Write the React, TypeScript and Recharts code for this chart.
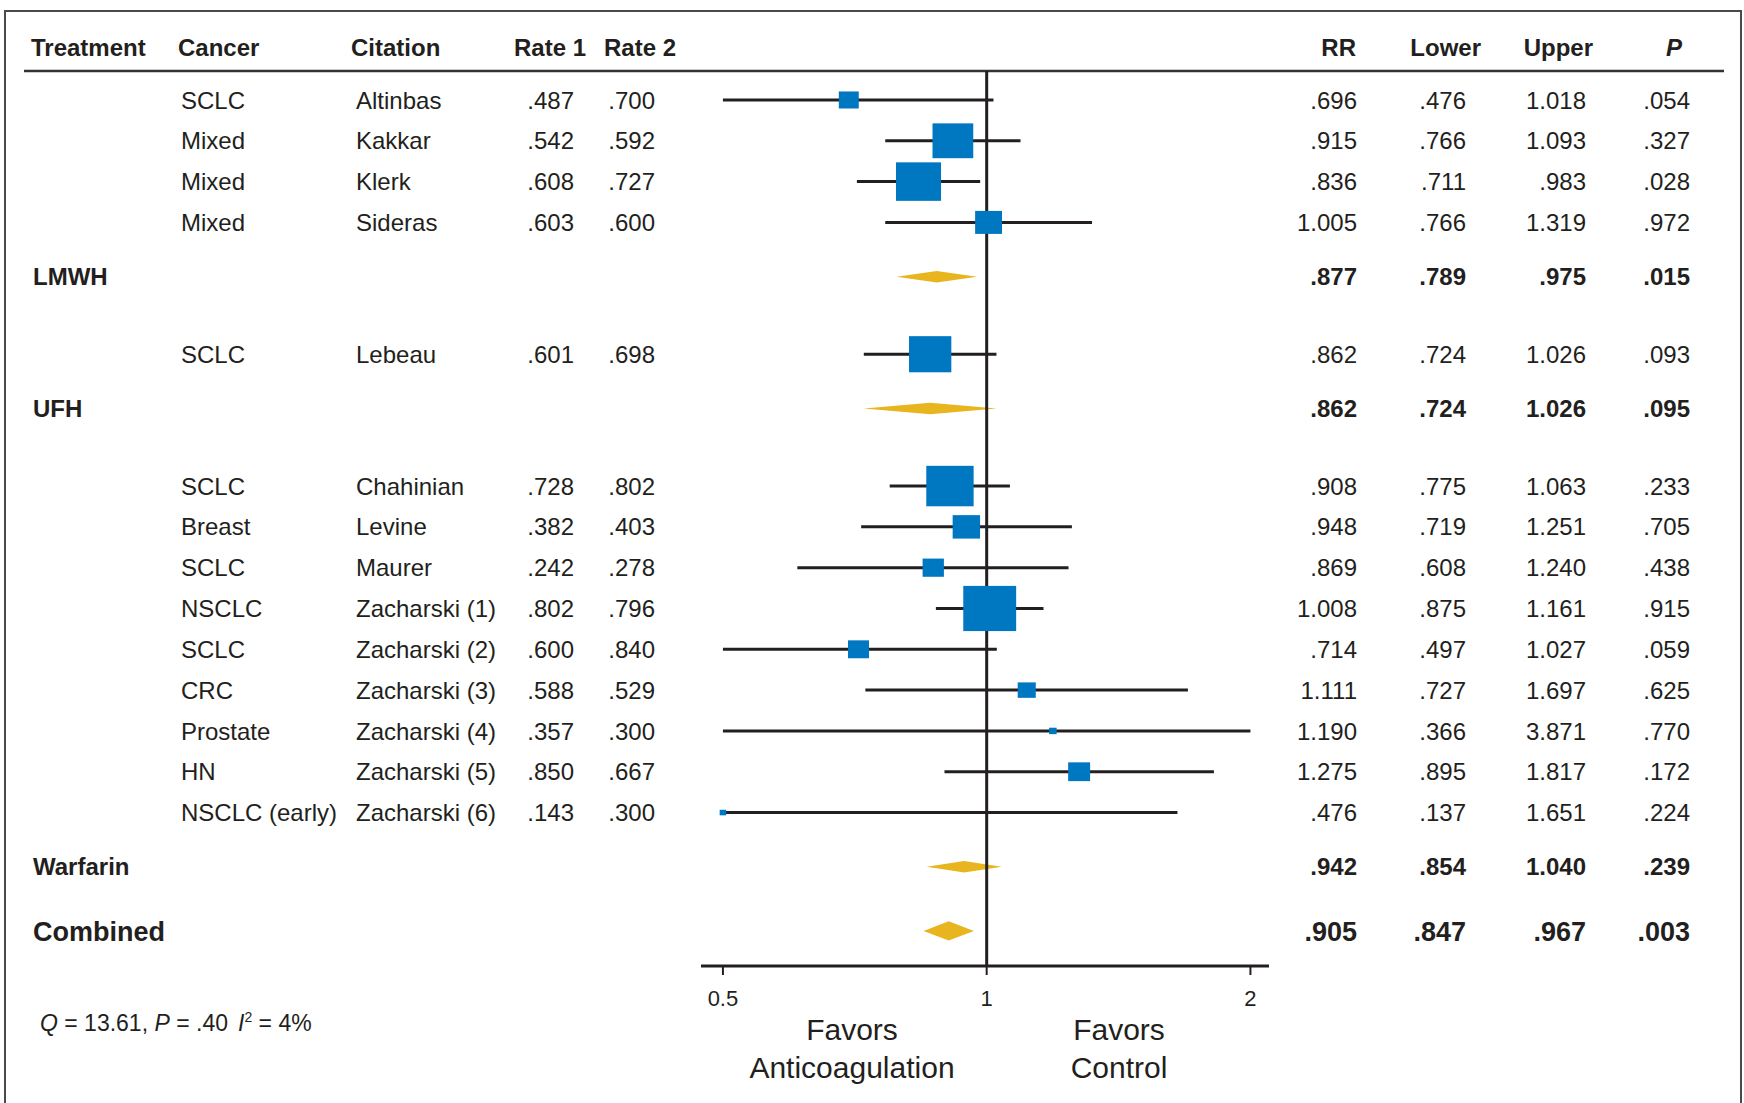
import React from 'react';
import { ComposedChart, Scatter, XAxis, YAxis, ReferenceArea } from 'recharts';

const FONT = '"Liberation Sans", Arial, Helvetica, sans-serif';
const INK = '#231f20';
const BLUE = '#0077c1';
const GOLD = '#e8b51e';

// one entry per study, top to bottom
const treatments = ['LMWH', 'LMWH', 'LMWH', 'LMWH', 'UFH', 'Warfarin', 'Warfarin', 'Warfarin', 'Warfarin', 'Warfarin', 'Warfarin', 'Warfarin', 'Warfarin', 'Warfarin'];
const cancers = ['SCLC', 'Mixed', 'Mixed', 'Mixed', 'SCLC', 'SCLC', 'Breast', 'SCLC', 'NSCLC', 'SCLC', 'CRC', 'Prostate', 'HN', 'NSCLC (early)'];
const citations = ['Altinbas', 'Kakkar', 'Klerk', 'Sideras', 'Lebeau', 'Chahinian', 'Levine', 'Maurer', 'Zacharski (1)', 'Zacharski (2)', 'Zacharski (3)', 'Zacharski (4)', 'Zacharski (5)', 'Zacharski (6)'];
const rate1 = [0.487, 0.542, 0.608, 0.603, 0.601, 0.728, 0.382, 0.242, 0.802, 0.6, 0.588, 0.357, 0.85, 0.143];
const rate2 = [0.7, 0.592, 0.727, 0.6, 0.698, 0.802, 0.403, 0.278, 0.796, 0.84, 0.529, 0.3, 0.667, 0.3];
const rr = [0.696, 0.915, 0.836, 1.005, 0.862, 0.908, 0.948, 0.869, 1.008, 0.714, 1.111, 1.19, 1.275, 0.476];
const lower = [0.476, 0.766, 0.711, 0.766, 0.724, 0.775, 0.719, 0.608, 0.875, 0.497, 0.727, 0.366, 0.895, 0.137];
const upper = [1.018, 1.093, 0.983, 1.319, 1.026, 1.063, 1.251, 1.24, 1.161, 1.027, 1.697, 3.871, 1.817, 1.651];
const pValues = [0.054, 0.327, 0.028, 0.972, 0.093, 0.233, 0.705, 0.438, 0.915, 0.059, 0.625, 0.77, 0.172, 0.224];
// study weight (%)
const weights = [2.8, 11.7, 14.3, 5.1, 12.6, 15.8, 5.3, 3.2, 19.7, 3.1, 2.3, 0.4, 3.4, 0.3];

// pooled estimates
const summaryLabels = ['LMWH', 'UFH', 'Warfarin', 'Combined'];
const summaryRR = [0.877, 0.862, 0.942, 0.905];
const summaryLower = [0.789, 0.724, 0.854, 0.847];
const summaryUpper = [0.975, 1.026, 1.04, 0.967];
const summaryP = [0.015, 0.095, 0.239, 0.003];

const xTicks = [0.5, 1, 2];

// row layout (in row units)
const SUMMARY_GAP = 1.33;
const GROUP_GAP = 1.9;
const COMBINED_GAP = 1.57;
const Y_DOMAIN: [number, number] = [-0.71, 21.22];
const X_DOMAIN: [number, number] = [0.472, 2.1];
const CLIP: [number, number] = [0.5, 2];

const studyY: number[] = [];
const summaryY: number[] = [];
{
  let pos = 0;
  let last = 0;
  summaryLabels.slice(0, -1).forEach((label) => {
    treatments.forEach((t, i) => {
      if (t === label) {
        studyY[i] = pos;
        last = pos;
        pos += 1;
      }
    });
    summaryY.push(last + SUMMARY_GAP);
    pos = last + SUMMARY_GAP + GROUP_GAP;
  });
  summaryY.push(summaryY[summaryY.length - 1] + COMBINED_GAP);
}

const fmt = (v: number) => v.toFixed(3).replace(/^0(?=\.)/, '');
const clampX = (v: number) => Math.min(Math.max(v, CLIP[0]), CLIP[1]);

const studyPoints = rr.map((v, i) => ({ x: clampX(v), y: studyY[i], w: weights[i] }));
const whiskers = rr.map((_, i) => [
  { x: clampX(lower[i]), y: studyY[i] },
  { x: clampX(upper[i]), y: studyY[i] },
]);

const tableRows = [
  ...rr.map((_, i) => ({
    x: 1,
    y: studyY[i],
    kind: 'study',
    cells: [cancers[i], citations[i], fmt(rate1[i]), fmt(rate2[i]), fmt(rr[i]), fmt(lower[i]), fmt(upper[i]), fmt(pValues[i])],
  })),
  ...summaryLabels.map((label, g) => ({
    x: 1,
    y: summaryY[g],
    kind: label === 'Combined' ? 'combined' : 'summary',
    cells: [label, fmt(summaryRR[g]), fmt(summaryLower[g]), fmt(summaryUpper[g]), fmt(summaryP[g])],
  })),
];

const COL = { treat: 33, cancer: 181, citation: 356, rate1: 574, rate2: 655, rr: 1357, lower: 1466, upper: 1586, p: 1690 };

const noShape = () => <g />;

const BoxShape = (props: any) => {
  const { cx, cy, payload } = props;
  const side = 10.83 * Math.sqrt(payload.w);
  const w = side * 1.1;
  const h = side * 0.94;
  return <rect x={cx - w / 2} y={cy - h / 2} width={w} height={h} fill={BLUE} />;
};

const RowText = (props: any) => {
  const { cy, payload } = props;
  const c = payload.cells as string[];
  if (payload.kind === 'study') {
    const base = cy + 8.6;
    const t = { fontFamily: FONT, fontSize: 24, fill: INK };
    return (
      <g>
        <text x={COL.cancer} y={base} {...t}>{c[0]}</text>
        <text x={COL.citation} y={base} {...t}>{c[1]}</text>
        <text x={COL.rate1} y={base} textAnchor="end" {...t}>{c[2]}</text>
        <text x={COL.rate2} y={base} textAnchor="end" {...t}>{c[3]}</text>
        <text x={COL.rr} y={base} textAnchor="end" {...t}>{c[4]}</text>
        <text x={COL.lower} y={base} textAnchor="end" {...t}>{c[5]}</text>
        <text x={COL.upper} y={base} textAnchor="end" {...t}>{c[6]}</text>
        <text x={COL.p} y={base} textAnchor="end" {...t}>{c[7]}</text>
      </g>
    );
  }
  const size = payload.kind === 'combined' ? 27 : 24;
  const base = cy + size * 0.36;
  const t = { fontFamily: FONT, fontSize: size, fontWeight: 700, fill: INK };
  return (
    <g>
      <text x={COL.treat} y={base} {...t}>{c[0]}</text>
      <text x={COL.rr} y={base} textAnchor="end" {...t}>{c[1]}</text>
      <text x={COL.lower} y={base} textAnchor="end" {...t}>{c[2]}</text>
      <text x={COL.upper} y={base} textAnchor="end" {...t}>{c[3]}</text>
      <text x={COL.p} y={base} textAnchor="end" {...t}>{c[4]}</text>
    </g>
  );
};

const Diamond = (props: any) => {
  const { x, y, width, height } = props;
  const pts = [
    [x, y + height / 2],
    [x + width / 2, y],
    [x + width, y + height / 2],
    [x + width / 2, y + height],
  ];
  return <polygon points={pts.map((p) => p.join(',')).join(' ')} fill={GOLD} />;
};

const Header = () => {
  const t = { fontFamily: FONT, fontSize: 24, fontWeight: 700, fill: INK };
  const y = 56;
  return (
    <g>
      <text x={31} y={y} {...t}>Treatment</text>
      <text x={178} y={y} {...t}>Cancer</text>
      <text x={351} y={y} {...t}>Citation</text>
      <text x={586} y={y} textAnchor="end" {...t}>Rate 1</text>
      <text x={604} y={y} {...t}>Rate 2</text>
      <text x={1356} y={y} textAnchor="end" {...t}>RR</text>
      <text x={1481} y={y} textAnchor="end" {...t}>Lower</text>
      <text x={1593} y={y} textAnchor="end" {...t}>Upper</text>
      <text x={1682} y={y} textAnchor="end" fontStyle="italic" {...t}>P</text>
    </g>
  );
};

const App = () => {
  return (
    <div style={{ position: 'absolute', left: 0, top: 0, width: 1744, height: 1103, background: '#fff' }}>
      <svg width={1744} height={1103} style={{ position: 'absolute', left: 0, top: 0 }}>
        <rect x={5} y={11} width={1736} height={1100} fill="none" stroke="#4a4a4a" strokeWidth={2} />
        <line x1={24} x2={1724} y1={71} y2={71} stroke="#333" strokeWidth={2.5} />
        <Header />
        <text x={40} y={1031} fontFamily={FONT} fontSize={23} fill={INK}>
          <tspan fontStyle="italic">Q</tspan> = 13.61, <tspan fontStyle="italic">P</tspan> = .40
          <tspan dx={10} fontStyle="italic">I</tspan>
          <tspan fontSize={14} dy={-9}>2</tspan>
          <tspan dy={9}> = 4%</tspan>
        </text>
        <g fontFamily={FONT} fontSize={30} fill={INK} textAnchor="middle">
          <text x={852} y={1040}>Favors</text>
          <text x={852} y={1078}>Anticoagulation</text>
          <text x={1119} y={1040}>Favors</text>
          <text x={1119} y={1078}>Control</text>
        </g>
      </svg>
      <div style={{ position: 'absolute', left: 0, top: 0 }}>
        <ComposedChart width={1744} height={1103} margin={{ top: 71, right: 475, bottom: 97, left: 701 }}>
          <XAxis
            type="number"
            dataKey="x"
            scale="log"
            domain={X_DOMAIN}
            ticks={xTicks}
            tickFormatter={(v: number) => String(v)}
            height={40}
            tickSize={9}
            tickMargin={15}
            axisLine={{ stroke: INK, strokeWidth: 3 }}
            tickLine={{ stroke: INK, strokeWidth: 2 }}
            tick={{ fill: INK, fontSize: 22, fontFamily: FONT }}
          />
          <YAxis type="number" dataKey="y" domain={Y_DOMAIN} reversed hide />
          <Scatter
            data={[{ x: 1, y: Y_DOMAIN[0] }, { x: 1, y: Y_DOMAIN[1] }]}
            fill={INK}
            line={{ stroke: INK, strokeWidth: 3 }}
            shape={noShape}
            isAnimationActive={false}
          />
          {whiskers.map((d, i) => (
            <Scatter
              key={`w${i}`}
              data={d}
              fill={INK}
              line={{ stroke: INK, strokeWidth: 3 }}
              shape={noShape}
              isAnimationActive={false}
            />
          ))}
          {summaryLabels.map((label, g) => {
            const half = label === 'Combined' ? 0.235 : 0.14;
            return (
              <ReferenceArea
                key={label}
                x1={summaryLower[g]}
                x2={summaryUpper[g]}
                y1={summaryY[g] - half}
                y2={summaryY[g] + half}
                shape={Diamond}
              />
            );
          })}
          <Scatter data={studyPoints} shape={BoxShape} isAnimationActive={false} />
          <Scatter data={tableRows} shape={RowText} isAnimationActive={false} />
        </ComposedChart>
      </div>
    </div>
  );
};

export default App;
